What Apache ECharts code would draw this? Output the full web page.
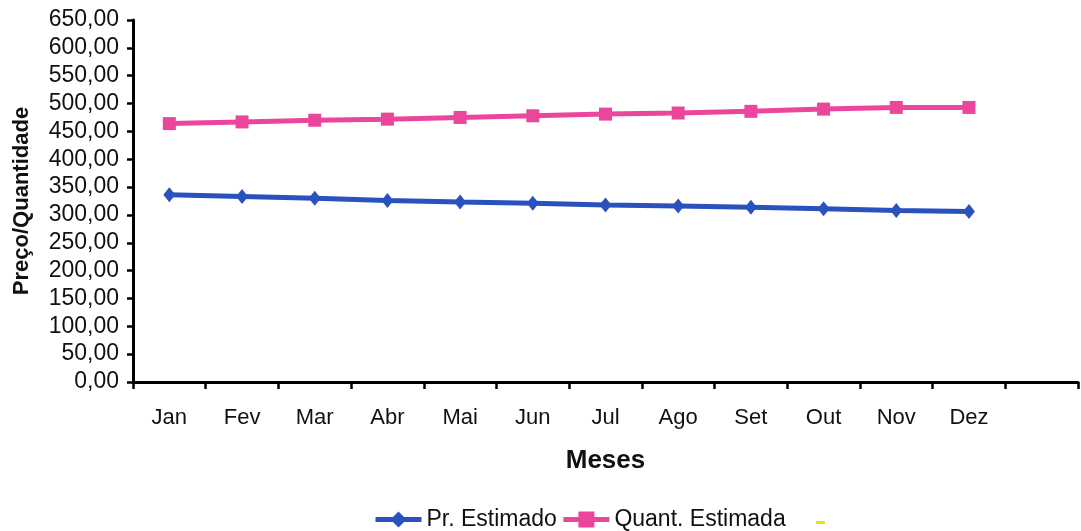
<!DOCTYPE html>
<html>
<head>
<meta charset="utf-8">
<script src="https://cdn.jsdelivr.net/npm/echarts@6/dist/echarts.min.js"></script>
<style>
  html, body { margin: 0; padding: 0; background: #fff; }
  #chart { width: 1081px; height: 531px; }
</style>
</head>
<body>
<div id="chart"></div>
<script>
// Monthly estimates: price and quantity
const months = ['Jan', 'Fev', 'Mar', 'Abr', 'Mai', 'Jun', 'Jul', 'Ago', 'Set', 'Out', 'Nov', 'Dez', ''];
const precoEstimado = [336, 333, 330, 326, 323, 321, 318, 316, 314, 311, 308, 306];
const quantEstimada = [464, 467, 470, 472, 475, 478, 481, 483, 486, 490, 493, 493];
const extraSerie = [];

const font = '"Liberation Sans", Arial, sans-serif';
const fmt = v => v.toFixed(2).replace('.', ',');
const BLUE = '#2A52BE';
const PINK = '#EA469B';
const YELLOW = '#F2E400';

const chart = echarts.init(document.getElementById('chart'), null, { renderer: 'canvas' });
chart.setOption({
  animation: false,
  backgroundColor: '#ffffff',
  grid: { left: 133, right: 3, top: 20, bottom: 149, outerBoundsMode: 'none' },
  legend: [
    {
      top: 503,
      left: 368,
      itemGap: 4,
      itemWidth: 46,
      itemHeight: 20,
      lineStyle: { width: 5 },
      textStyle: { fontFamily: font, fontSize: 23, color: '#111' },
      data: ['Pr. Estimado', 'Quant. Estimada']
    },
    {
      top: 516,
      left: 811,
      itemWidth: 9,
      itemHeight: 3,
      icon: 'rect',
      textStyle: { fontSize: 1, color: 'transparent' },
      data: [' ']
    }
  ],
  xAxis: {
    type: 'category',
    data: months,
    boundaryGap: true,
    name: 'Meses',
    nameLocation: 'middle',
    nameGap: 66,
    nameTextStyle: { fontFamily: font, fontSize: 26, fontWeight: 'bold', color: '#111' },
    axisLine: { lineStyle: { color: '#000', width: 3 } },
    axisTick: { show: true, length: 7, lineStyle: { color: '#000', width: 2.5 } },
    axisLabel: { fontFamily: font, fontSize: 22, color: '#111', margin: 25, interval: 0 }
  },
  yAxis: {
    type: 'value',
    min: 0,
    max: 650,
    interval: 50,
    name: 'Preço/Quantidade',
    nameLocation: 'middle',
    nameGap: 100,
    nameRotate: 90,
    nameTextStyle: { fontFamily: font, fontSize: 22, fontWeight: 'bold', color: '#111' },
    axisLine: { show: true, lineStyle: { color: '#000', width: 3 } },
    axisTick: { show: true, length: 6, lineStyle: { color: '#000', width: 2.5 } },
    axisLabel: { fontFamily: font, fontSize: 23, color: '#111', margin: 14, formatter: fmt },
    splitLine: { show: false }
  },
  series: [
    {
      name: 'Pr. Estimado',
      type: 'line',
      data: precoEstimado,
      symbol: 'diamond',
      symbolSize: [12, 15],
      itemStyle: { color: BLUE },
      lineStyle: { color: BLUE, width: 5 }
    },
    {
      name: 'Quant. Estimada',
      type: 'line',
      data: quantEstimada,
      symbol: 'rect',
      symbolSize: 13,
      itemStyle: { color: PINK },
      lineStyle: { color: PINK, width: 5 }
    },
    {
      name: ' ',
      type: 'line',
      data: extraSerie,
      symbol: 'none',
      itemStyle: { color: YELLOW },
      lineStyle: { color: YELLOW, width: 3 }
    }
  ]
});
</script>
</body>
</html>
